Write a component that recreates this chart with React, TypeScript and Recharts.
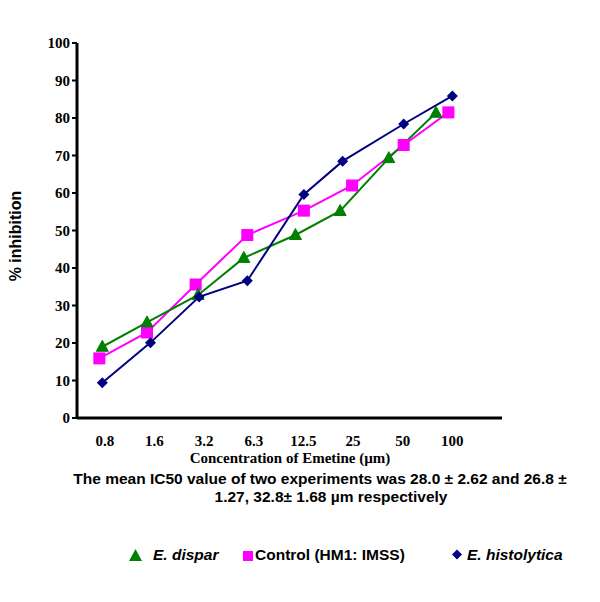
import React from 'react';
import { LineChart, Line, XAxis, YAxis } from 'recharts';

// Concentration categories (tick labels)
const concentrations = ['0.8', '1.6', '3.2', '6.3', '12.5', '25', '50', '100'];
const yTicks = [0, 10, 20, 30, 40, 50, 60, 70, 80, 90, 100];

// % inhibition values
const disparValues = [19.0, 25.5, 32.8, 42.7, 48.8, 55.2, 69.3, 81.4];
const controlValues = [15.9, 22.8, 35.6, 48.8, 55.3, 62.0, 72.8, 81.5];
const histolyticaValues = [9.4, 20.1, 32.3, 36.6, 59.6, 68.5, 78.4, 85.9];

// plotted category positions (in category-index units)
const disparX = [-0.05, 0.85, 1.88, 2.8, 3.84, 4.74, 5.72, 6.67];
const controlX = [-0.11, 0.85, 1.83, 2.87, 4.01, 4.98, 6.02, 6.92];
const histolyticaX = [-0.05, 0.92, 1.9, 2.87, 4.01, 4.79, 6.02, 7.0];

const seriesNames = ['E. dispar', 'Control (HM1: IMSS)', 'E. histolytica'];

const toData = (xs: number[], ys: number[]) => ys.map((y, i) => ({ x: xs[i], y }));
const disparData = toData(disparX, disparValues);
const controlData = toData(controlX, controlValues);
const histolyticaData = toData(histolyticaX, histolyticaValues);

const GREEN = '#008000';
const PINK = '#FF00FF';
const NAVY = '#000080';

const triangleDot = (props: any) => {
  const { cx, cy, index } = props;
  if (cx == null || cy == null) return <g key={`t${index}`} />;
  return (
    <polygon
      key={`t${index}`}
      points={`${cx},${cy - 6.5} ${cx + 6},${cy + 4.5} ${cx - 6},${cy + 4.5}`}
      fill={GREEN}
      stroke={GREEN}
    />
  );
};
const squareDot = (props: any) => {
  const { cx, cy, index } = props;
  if (cx == null || cy == null) return <g key={`s${index}`} />;
  return <rect key={`s${index}`} x={cx - 6} y={cy - 6} width={12} height={12} fill={PINK} />;
};
const diamondDot = (props: any) => {
  const { cx, cy, index } = props;
  if (cx == null || cy == null) return <g key={`d${index}`} />;
  return (
    <polygon
      key={`d${index}`}
      points={`${cx},${cy - 5.5} ${cx + 5.5},${cy} ${cx},${cy + 5.5} ${cx - 5.5},${cy}`}
      fill={NAVY}
    />
  );
};

const tickStyle = {
  fill: '#000',
  fontFamily: '"Liberation Serif", "Times New Roman", serif',
  fontWeight: 'bold' as const,
  fontSize: 15,
};

const sansBold = {
  fontFamily: '"Liberation Sans", Arial, sans-serif',
  fontWeight: 'bold' as const,
  fontSize: 15.5,
};

export default function App() {
  return (
    <div
      style={{
        position: 'absolute',
        left: 0,
        top: 0,
        width: 600,
        height: 602,
        background: '#fff',
        overflow: 'hidden',
      }}
    >
      <LineChart
        width={600}
        height={602}
        margin={{ top: 43, right: 98, bottom: 154, left: 37 }}
      >
        <XAxis
          type="number"
          dataKey="x"
          domain={[-0.56, 8]}
          ticks={[0, 1, 2, 3, 4, 5, 6, 7]}
          tickFormatter={(v: number) => concentrations[v] ?? ''}
          allowDataOverflow
          height={30}
          tickLine={false}
          tickSize={0}
          tickMargin={17}
          axisLine={{ stroke: '#000', strokeWidth: 3 }}
          tick={tickStyle}
          interval={0}
          label={() => (
            <text x={290} y={463} textAnchor="middle" style={tickStyle}>
              Concentration of Emetine (µm)
            </text>
          )}
        />
        <YAxis
          type="number"
          domain={[0, 100]}
          ticks={yTicks}
          width={40}
          interval={0}
          tickSize={5}
          tickMargin={2}
          tickLine={{ stroke: '#000', strokeWidth: 2 }}
          axisLine={{ stroke: '#000', strokeWidth: 3 }}
          tick={tickStyle}
          label={() => (
            <text
              x={21}
              y={236}
              transform="rotate(-90 21 236)"
              textAnchor="middle"
              style={{ ...sansBold, fill: '#000', fontSize: 16 }}
            >
              % inhibition
            </text>
          )}
        />
        <Line
          data={controlData}
          dataKey="y"
          stroke={PINK}
          strokeWidth={2}
          dot={squareDot}
          activeDot={false}
          isAnimationActive={false}
        />
        <Line
          data={disparData}
          dataKey="y"
          stroke={GREEN}
          strokeWidth={2}
          dot={triangleDot}
          activeDot={false}
          isAnimationActive={false}
        />
        <Line
          data={histolyticaData}
          dataKey="y"
          stroke={NAVY}
          strokeWidth={2}
          dot={diamondDot}
          activeDot={false}
          isAnimationActive={false}
        />
      </LineChart>

      <div
        style={{
          position: 'absolute',
          left: 60,
          top: 470,
          width: 520,
          textAlign: 'center',
          ...sansBold,
          lineHeight: '18px',
          whiteSpace: 'nowrap',
          color: '#000',
        }}
      >
        <div>The mean IC50 value of two experiments was 28.0 ± 2.62 and 26.8 ±</div>
        <div style={{ position: 'relative', left: 11 }}>1.27, 32.8± 1.68 µm respectively</div>
      </div>

      <svg width={600} height={50} style={{ position: 'absolute', left: 0, top: 530 }}>
        <polygon points="135.5,19 142,31 129,31" fill={GREEN} />
        <text x={153} y={29.5} style={{ ...sansBold, fontStyle: 'italic' }}>
          {seriesNames[0]}
        </text>
        <rect x={243} y={21} width={10} height={10} fill={PINK} />
        <text x={255} y={29.5} style={sansBold}>
          {seriesNames[1]}
        </text>
        <polygon points="457,19.5 462,24.5 457,29.5 452,24.5" fill={NAVY} />
        <text x={467} y={29.5} style={{ ...sansBold, fontStyle: 'italic' }}>
          {seriesNames[2]}
        </text>
      </svg>
    </div>
  );
}
